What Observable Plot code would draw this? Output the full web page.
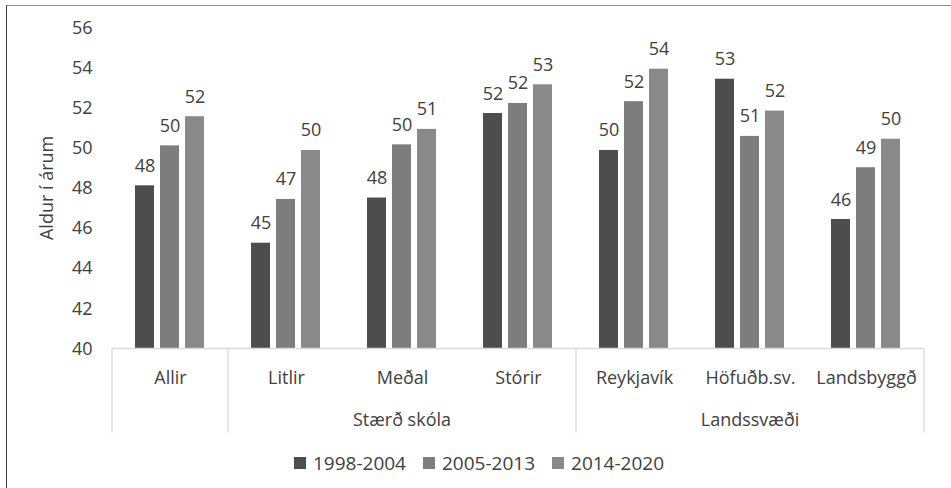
<!DOCTYPE html>
<html>
<head>
<meta charset="utf-8">
<script src="https://cdn.jsdelivr.net/npm/d3@7"></script>
<script src="https://cdn.jsdelivr.net/npm/@observablehq/plot@0.6"></script>
<style>
  html, body { margin: 0; padding: 0; background: #fff; }
  body { width: 951px; height: 488px; position: relative; overflow: hidden; font-family: "Open Sans", Lato, sans-serif; color: #404040; }
  #frame { position: absolute; left: 6px; top: 5px; width: 960px; height: 500px; border-left: 1.5px solid #3a3a3a; border-top: 1.5px solid #8c8c8c; box-sizing: border-box; }
  #chart { position: absolute; left: 0; top: 0; }
  #legend { position: absolute; top: 452px; left: 0; width: 958px; display: flex; justify-content: center; gap: 17px; font-size: 19px; line-height: 22px; }
  .item { display: flex; align-items: center; gap: 7px; }
  .sw { width: 12px; height: 12px; display: inline-block; }
</style>
</head>
<body>
<div id="frame"></div>
<div id="chart"></div>
<div id="legend"></div>
<script>
const categories = ["Allir", "Litlir", "Meðal", "Stórir", "Reykjavík", "Höfuðb.sv.", "Landsbyggð"];
const groupLabels = ["Stærð skóla", "Landssvæði"];
const groupStart = ["Litlir", "Reykjavík"];
const groupEnd = ["Stórir", "Landsbyggð"];
const series = ["1998-2004", "2005-2013", "2014-2020"];
const values1998 = [48.13, 45.27, 47.52, 51.73, 49.89, 53.44, 46.45];
const values2005 = [50.12, 47.45, 50.17, 52.23, 52.32, 50.59, 49.03];
const values2014 = [51.57, 49.89, 50.94, 53.16, 53.94, 51.85, 50.45];
const yTicks = [40, 42, 44, 46, 48, 50, 52, 54, 56];
const colors = ["#4d4d4d", "#7d7d7d", "#898989"];

const seriesValues = [values1998, values2005, values2014];
const data = [];
categories.forEach((c, i) => series.forEach((s, j) => data.push({category: c, series: s, value: seriesValues[j][i]})));

const H = 445, baseY = 348.5;
const FONT = "'Open Sans', Lato, sans-serif";
const plot = Plot.plot({
  width: 951, height: H,
  marginLeft: 110, marginRight: 25, marginTop: 27.3, marginBottom: H - baseY,
  style: {fontFamily: FONT, fontSize: "18px", color: "#404040", background: "transparent", overflow: "visible"},
  fx: {domain: categories, padding: 0, label: null, tickSize: 0, tickPadding: 22},
  x: {domain: series, paddingInner: 0.23, paddingOuter: 0.86, axis: null},
  y: {domain: [40, 56], ticks: yTicks, tickSize: 0, tickPadding: 20, label: null},
  color: {domain: series, range: colors},
  marks: [
    Plot.barY(data, {fx: "category", x: "series", y1: 40, y2: "value", fill: "series"}),
    Plot.text(data, {fx: "category", x: "series", y: "value", text: d => String(Math.round(d.value)), lineAnchor: "bottom", dy: -14, fill: "#404040"})
  ]
});
document.getElementById("chart").appendChild(plot);

// baseline, category separators and group labels from the fx scale
const fx = plot.scale("fx");
const bw = fx.bandwidth;
const svg = d3.select(plot);
const g = svg.append("g").attr("stroke", "#d9d9d9").attr("stroke-width", 1.3);
const left = fx.apply(categories[0]);
const right = fx.apply(categories[categories.length - 1]) + bw;
g.append("line").attr("x1", left).attr("x2", right).attr("y1", baseY).attr("y2", baseY);
const seps = [left, fx.apply(groupStart[0]), fx.apply(groupStart[1]), right];
seps.forEach(x => g.append("line").attr("x1", x).attr("x2", x).attr("y1", baseY).attr("y2", 432.7));
groupLabels.forEach((lab, k) => {
  const x0 = fx.apply(groupStart[k]), x1 = fx.apply(groupEnd[k]) + bw;
  svg.append("text").attr("x", (x0 + x1) / 2).attr("y", 426).attr("text-anchor", "middle")
    .attr("fill", "#404040").attr("font-size", "18px").text(lab);
});
svg.append("text").attr("transform", `translate(53,${(27.3 + baseY) / 2}) rotate(-90)`)
  .attr("text-anchor", "middle").attr("fill", "#404040").attr("font-size", "18px").text("Aldur í árum");

const legend = d3.select("#legend");
series.forEach((s, j) => {
  const it = legend.append("div").attr("class", "item");
  it.append("span").attr("class", "sw").style("background", colors[j]);
  it.append("span").text(s);
});
</script>
</body>
</html>
